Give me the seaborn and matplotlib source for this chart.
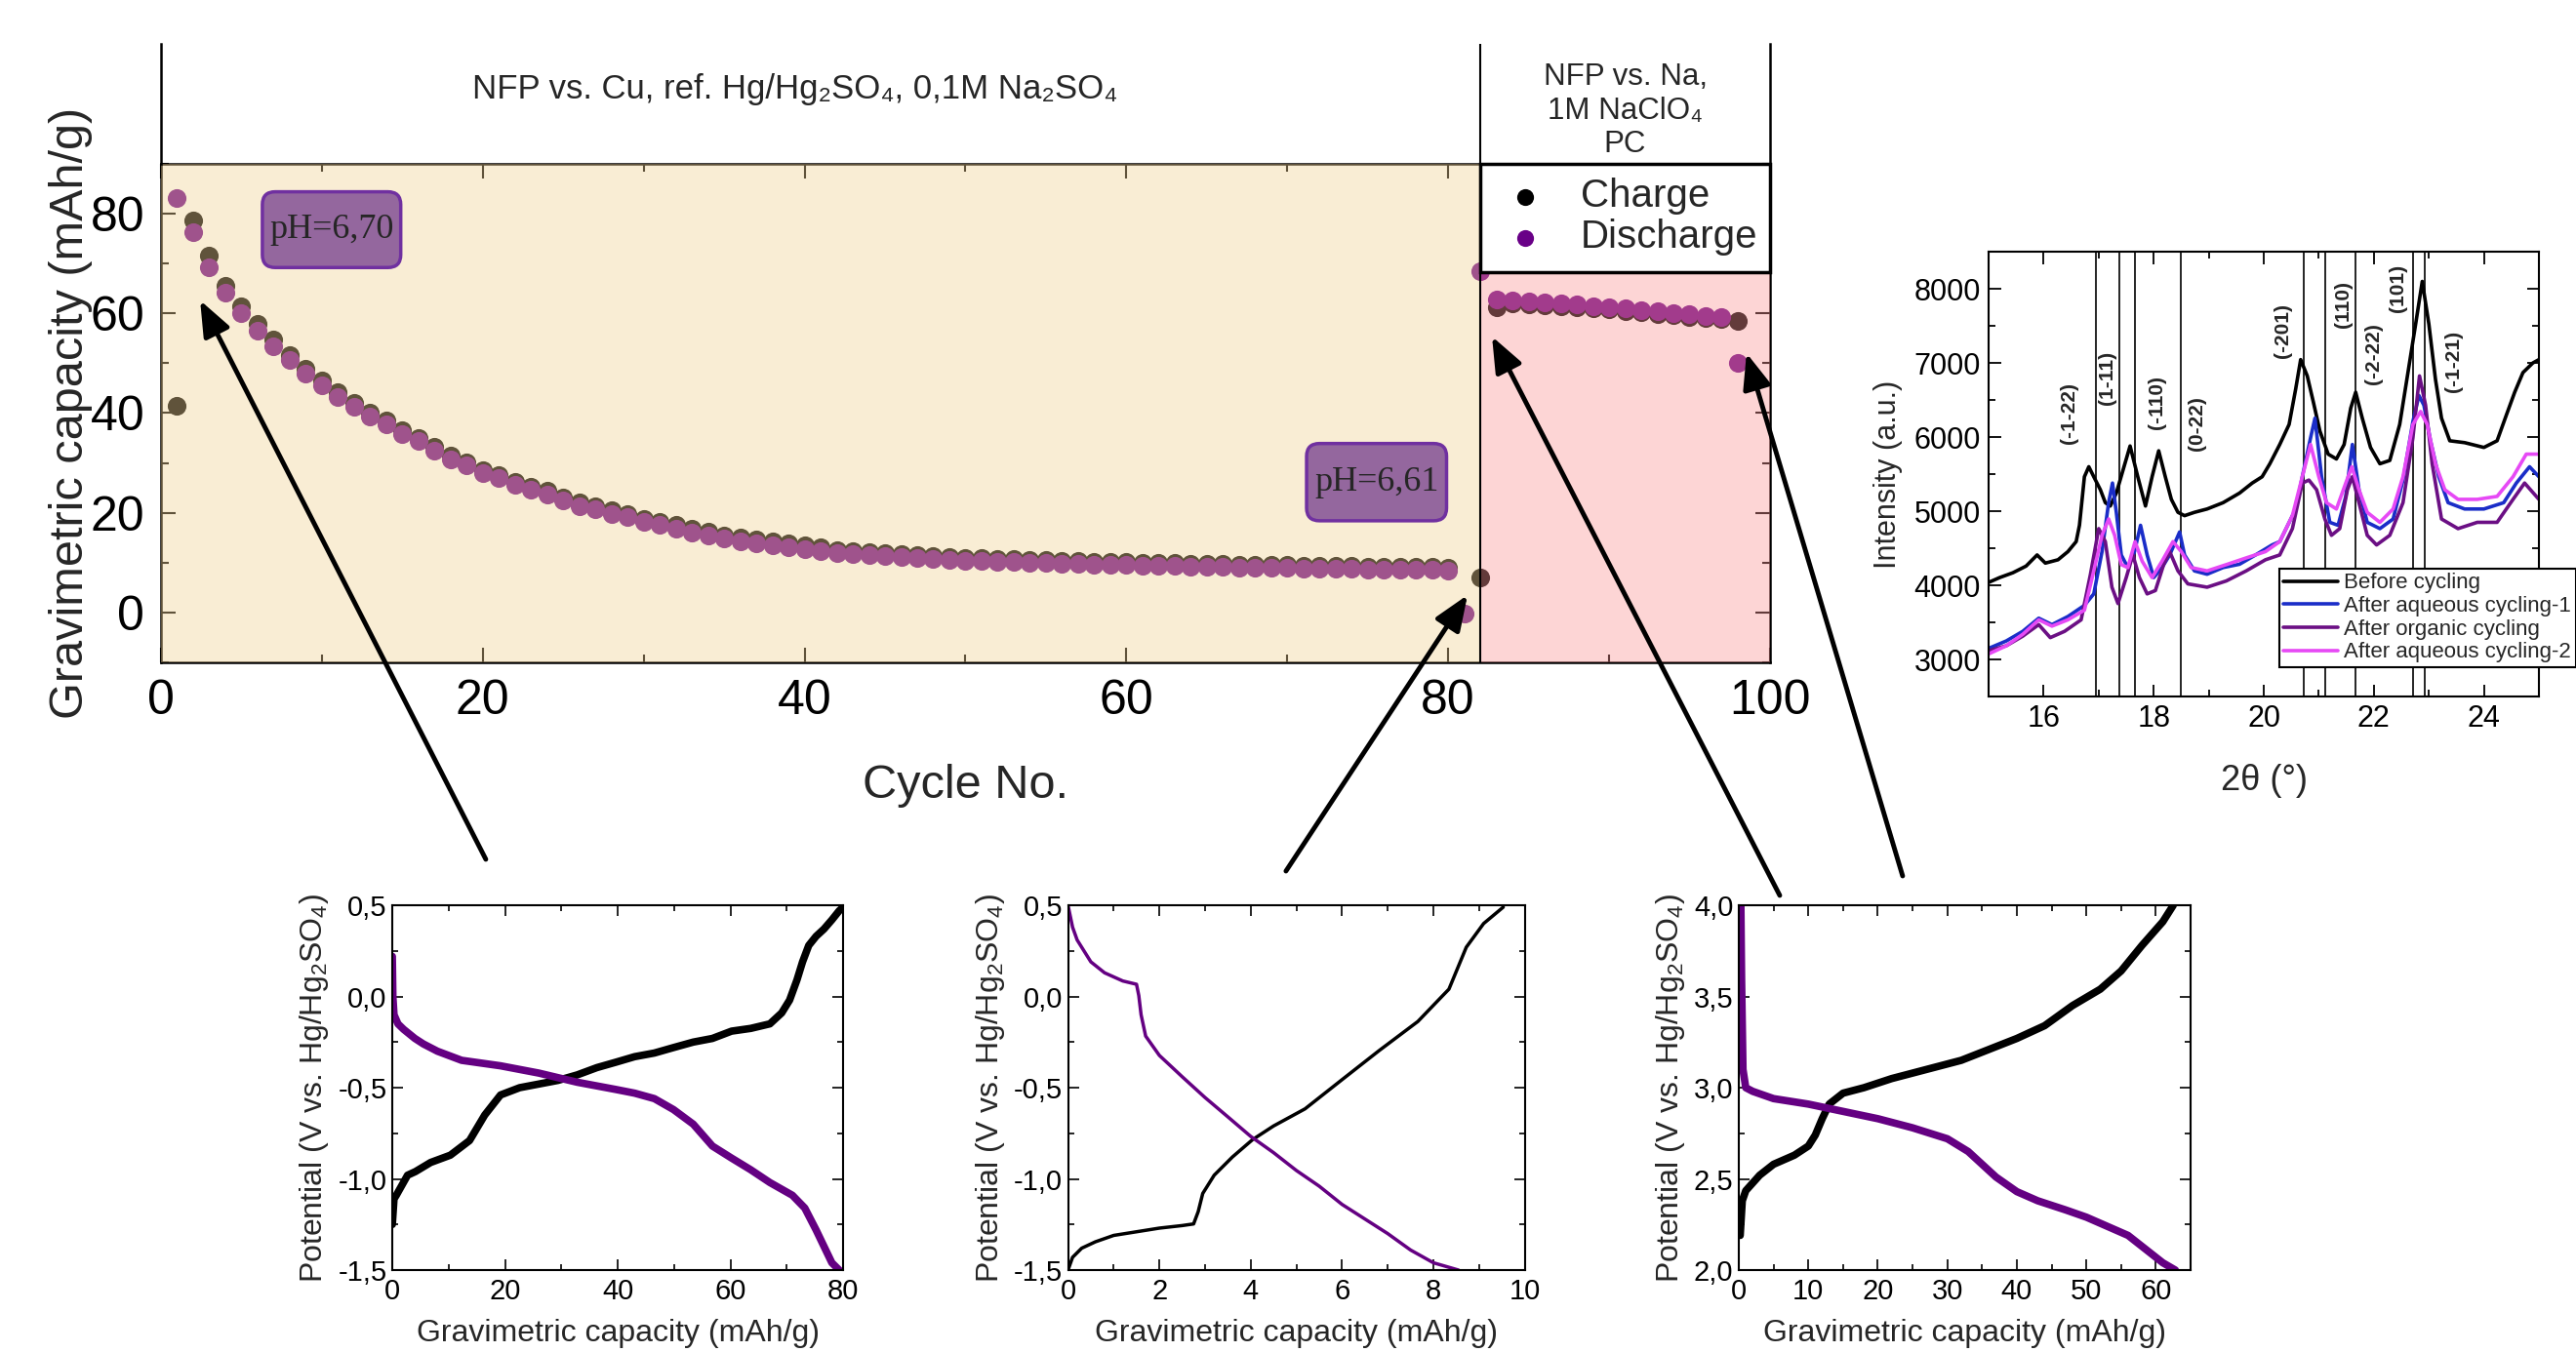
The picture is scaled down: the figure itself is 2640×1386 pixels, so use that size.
import numpy as np
import pandas as pd
import matplotlib
matplotlib.use('Agg')
import matplotlib.pyplot as plt
import seaborn as sns
from matplotlib.ticker import MultipleLocator, FuncFormatter
from matplotlib.patches import Rectangle, FancyArrowPatch, FancyBboxPatch

# ---------------- main cycling data ----------------
charge_cycle = list(range(1, 81)) + [82] + list(range(83, 99))
charge_cap = [41.5, 78.7, 71.6, 65.6, 61.5, 57.9, 54.7, 51.6, 49.0, 46.5,
              44.2, 42.1, 40.1, 38.5, 36.6, 35.1, 33.2, 31.5, 30.2, 28.6,
              27.6, 26.3, 25.3, 24.4, 23.1, 22.1, 21.4, 20.5, 19.8, 18.8,
              18.2, 17.5, 16.8, 16.2, 15.5, 15.0, 14.6, 14.2, 13.8, 13.4,
              13.0, 12.6, 12.4, 12.1, 11.9, 11.7, 11.5, 11.3, 11.2, 11.0,
              10.9, 10.8, 10.7, 10.6, 10.5, 10.4, 10.3, 10.2, 10.2, 10.1,
              10.0, 10.0, 9.9, 9.8, 9.8, 9.7, 9.6, 9.6, 9.5, 9.5,
              9.4, 9.4, 9.3, 9.3, 9.2, 9.2, 9.1, 9.1, 9.1, 9.0,
              7.0,
              61.3, 62.0, 61.9, 61.7, 61.5, 61.3, 61.0, 60.8, 60.5, 60.2,
              59.9, 59.6, 59.3, 59.0, 58.8, 58.5]
discharge_cycle = list(range(1, 82)) + list(range(82, 99))
discharge_cap = [83.1, 76.3, 69.3, 64.1, 60.0, 56.6, 53.5, 50.6, 48.0, 45.6,
                 43.3, 41.3, 39.3, 37.7, 35.8, 34.4, 32.5, 30.8, 29.5, 27.9,
                 26.9, 25.6, 24.6, 23.7, 22.4, 21.4, 20.7, 19.8, 19.1, 18.1,
                 17.5, 16.8, 16.1, 15.5, 14.8, 14.3, 13.9, 13.5, 13.1, 12.7,
                 12.4, 12.0, 11.8, 11.5, 11.3, 11.1, 10.9, 10.7, 10.6, 10.4,
                 10.3, 10.2, 10.1, 10.0, 9.9, 9.8, 9.7, 9.6, 9.6, 9.5,
                 9.4, 9.4, 9.3, 9.2, 9.2, 9.1, 9.0, 9.0, 8.9, 8.9,
                 8.8, 8.8, 8.7, 8.7, 8.6, 8.6, 8.5, 8.5, 8.5, 8.4,
                 -0.3,
                 68.5, 62.8, 62.6, 62.4, 62.2, 62.0, 61.8, 61.5, 61.2, 61.0,
                 60.7, 60.4, 60.1, 59.8, 59.5, 59.2, 50.0]
ph_labels = ['pH=6,70', 'pH=6,61']

# ---------------- XRD data ----------------
xrd_before_tt = [15.0, 15.2, 15.44, 15.68, 15.88, 16.03, 16.26, 16.44, 16.59, 16.65,
                 16.74, 16.82, 16.91, 17.03, 17.12, 17.21, 17.32, 17.44, 17.57, 17.71,
                 17.85, 17.97, 18.09, 18.21, 18.32, 18.44, 18.56, 18.74, 18.97, 19.26,
                 19.56, 19.79, 19.97, 20.11, 20.29, 20.46, 20.58, 20.67, 20.79, 20.90,
                 21.02, 21.17, 21.32, 21.46, 21.58, 21.67, 21.79, 21.94, 22.11, 22.29,
                 22.47, 22.62, 22.76, 22.88, 23.0, 23.12, 23.23, 23.38, 23.65, 24.0,
                 24.24, 24.41, 24.56, 24.71, 24.89, 25.0]
xrd_before_I = [4040, 4105, 4170, 4260, 4410, 4300, 4345, 4455, 4590, 4810,
                5465, 5600, 5465, 5290, 5115, 5070, 5245, 5550, 5880, 5465,
                5070, 5465, 5815, 5465, 5160, 4985, 4940, 4985, 5030, 5115,
                5245, 5380, 5465, 5640, 5900, 6170, 6650, 7045, 6825, 6475,
                6080, 5770, 5705, 5900, 6390, 6605, 6255, 5860, 5640, 5685,
                6170, 6870, 7525, 8100, 7525, 6780, 6255, 5950, 5925, 5860,
                5950, 6300, 6605, 6870, 7000, 7045]
xrd_aq1_tt = [15.0, 15.32, 15.62, 15.91, 16.15, 16.44, 16.74, 16.91, 17.06, 17.18,
              17.25, 17.32, 17.41, 17.53, 17.65, 17.76, 17.88, 18.0, 18.15, 18.29,
              18.47, 18.56, 18.74, 18.97, 19.26, 19.56, 19.85, 20.15, 20.29, 20.58,
              20.7, 20.85, 20.93, 21.05, 21.2, 21.35, 21.49, 21.61, 21.73, 21.88,
              22.11, 22.35, 22.53, 22.71, 22.82, 22.91, 23.03, 23.18, 23.35, 23.65,
              24.0, 24.36, 24.59, 24.83, 25.0]
xrd_aq1_I = [3150, 3250, 3380, 3557, 3470, 3580, 3730, 3885, 4455, 5115,
             5380, 4985, 4410, 4240, 4455, 4810, 4410, 4105, 4240, 4410,
             4720, 4410, 4195, 4150, 4240, 4285, 4410, 4545, 4590, 5030,
             5465, 5990, 6255, 5465, 4850, 4810, 5200, 5900, 5290, 4850,
             4765, 4895, 5420, 6210, 6560, 6430, 5950, 5465, 5115, 5030,
             5030, 5115, 5380, 5600, 5465]
xrd_org_tt = [15.0, 15.32, 15.62, 15.91, 16.12, 16.38, 16.68, 16.85, 17.0, 17.12,
              17.24, 17.35, 17.5, 17.62, 17.74, 17.88, 18.03, 18.18, 18.29, 18.44,
              18.62, 18.97, 19.32, 19.68, 20.03, 20.29, 20.52, 20.7, 20.82, 20.96,
              21.11, 21.23, 21.38, 21.52, 21.61, 21.73, 21.88, 22.05, 22.29, 22.53,
              22.71, 22.83, 22.94, 23.06, 23.23, 23.53, 23.88, 24.24, 24.53, 24.74,
              25.0]
xrd_org_I = [3118, 3185, 3315, 3470, 3295, 3380, 3535, 4150, 4765, 4590,
             3975, 3755, 4105, 4410, 4105, 3885, 3930, 4280, 4455, 4195,
             4020, 3975, 4060, 4195, 4345, 4410, 4765, 5380, 5420, 5290,
             4895, 4675, 4765, 5290, 5465, 5115, 4675, 4545, 4675, 5115,
             5990, 6825, 6430, 5640, 4895, 4765, 4850, 4850, 5160, 5380,
             5160]
xrd_aq2_tt = [15.0, 15.32, 15.62, 15.91, 16.15, 16.44, 16.74, 16.91, 17.06, 17.18,
              17.29, 17.41, 17.53, 17.66, 17.79, 17.97, 18.15, 18.35, 18.5, 18.68,
              18.97, 19.32, 19.68, 20.03, 20.29, 20.52, 20.7, 20.85, 21.0, 21.14,
              21.32, 21.49, 21.6, 21.73, 21.88, 22.11, 22.35, 22.53, 22.71, 22.85,
              22.97, 23.12, 23.29, 23.53, 23.88, 24.24, 24.53, 24.77, 25.0]
xrd_aq2_I = [3075, 3185, 3340, 3535, 3450, 3535, 3665, 4195, 4675, 4895,
             4675, 4280, 4240, 4590, 4325, 4105, 4325, 4590, 4455, 4240,
             4195, 4280, 4370, 4455, 4590, 4940, 5465, 5900, 5465, 5115,
             5030, 5380, 5600, 5290, 4985, 4850, 5030, 5465, 6170, 6345,
             6170, 5640, 5290, 5160, 5160, 5200, 5465, 5770, 5770]
xrd_series = ['Before cycling', 'After aqueous cycling-1', 'After organic cycling', 'After aqueous cycling-2']
peak_pos = [16.95, 17.37, 17.66, 18.50, 20.72, 21.11, 21.66, 22.72, 22.93]
peak_names = ['(-1-22)', '(1-11)', '(-110)', '(0-22)', '(-201)', '(110)', '(-2-22)', '(101)', '(-1-21)']
peak_label_x = [16.47, 17.16, 18.06, 18.79, 20.34, 21.44, 22.0, 22.44, 23.44]
peak_label_y = [6320, 6800, 6470, 6190, 7440, 7790, 7130, 8010, 7020]

# ---------------- galvanostatic profiles ----------------
ch1_cap = [0, 0.3, 0.7, 2.7, 4.1, 6.8, 10.3, 13.7, 16.4, 19.2, 22.6, 26.0, 29.4, 32.8, 36.3,
           39.7, 43.0, 46.5, 49.9, 53.4, 56.8, 60.2, 63.6, 67.0, 69.1, 70.5, 71.8, 72.8, 73.9,
           75.2, 76.6, 78.0, 79.3, 80.0]
ch1_V = [-1.25, -1.11, -1.09, -0.98, -0.96, -0.91, -0.87, -0.79, -0.65, -0.54, -0.50, -0.48, -0.46,
         -0.43, -0.39, -0.36, -0.33, -0.31, -0.28, -0.25, -0.23, -0.19, -0.175, -0.15, -0.09,
         -0.02, 0.09, 0.19, 0.28, 0.33, 0.37, 0.42, 0.47, 0.49]
dc1_cap = [0, 0.1, 0.3, 1.0, 2.0, 4.0, 5.5, 8.0, 12.3, 19.2, 26.0, 32.8, 39.7, 43.0, 46.5,
           49.9, 53.4, 56.8, 60.2, 63.6, 67.0, 71.0, 73.2, 75.2, 78.0, 79.3]
dc1_V = [0.22, 0.0, -0.1, -0.15, -0.18, -0.23, -0.26, -0.30, -0.35, -0.38, -0.42, -0.47, -0.51,
         -0.53, -0.56, -0.62, -0.70, -0.82, -0.886, -0.95, -1.02, -1.09, -1.16, -1.28, -1.46, -1.5]
ch2_cap = [0, 0.1, 0.3, 0.6, 1.0, 1.5, 2.0, 2.5, 2.75, 2.85, 2.95, 3.2, 3.6, 4.04, 4.5, 5.19,
           6.0, 6.81, 7.66, 8.17, 8.34, 8.72, 9.1, 9.53]
ch2_V = [-1.5, -1.43, -1.38, -1.345, -1.31, -1.29, -1.27, -1.256, -1.247, -1.18, -1.08, -0.98,
         -0.88, -0.785, -0.71, -0.616, -0.456, -0.297, -0.137, -0.004, 0.04, 0.27, 0.40, 0.49]
dc2_cap = [0, 0.1, 0.2, 0.5, 0.8, 1.2, 1.5, 1.55, 1.6, 1.7, 2.0, 2.5, 3.0, 3.5, 4.0, 4.5, 5.0,
           5.5, 6.0, 6.5, 7.0, 7.5, 8.0, 8.55]
dc2_V = [0.5, 0.38, 0.31, 0.19, 0.13, 0.085, 0.067, 0.005, -0.10, -0.217, -0.323, -0.44, -0.554,
         -0.66, -0.767, -0.856, -0.954, -1.04, -1.14, -1.22, -1.30, -1.39, -1.46, -1.5]
ch3_cap = [0.2, 0.5, 1, 3, 5, 8, 10, 11, 12, 13, 15, 18, 22, 27, 32, 36, 40, 44, 48, 52, 55,
           58, 61, 62.5]
ch3_V = [2.19, 2.38, 2.435, 2.52, 2.58, 2.63, 2.68, 2.74, 2.83, 2.91, 2.97, 3.0, 3.05, 3.1,
         3.15, 3.21, 3.27, 3.34, 3.45, 3.54, 3.64, 3.78, 3.91, 4.0]
dc3_cap = [0.3, 0.4, 0.6, 1, 2, 5, 10, 15, 20, 25, 30, 33, 35, 37, 40, 43, 47, 50, 53, 56,
           59, 61, 62.8]
dc3_V = [4.0, 3.6, 3.1, 3.0, 2.98, 2.94, 2.91, 2.87, 2.83, 2.78, 2.72, 2.65, 2.58, 2.51, 2.43,
         2.38, 2.33, 2.29, 2.24, 2.19, 2.10, 2.04, 2.0]

PURPLE = '#690087'

sns.set_theme(style='ticks')
plt.rcParams['font.family'] = ['Liberation Sans', 'DejaVu Sans']
plt.rcParams['mathtext.fontset'] = 'custom'
plt.rcParams['mathtext.rm'] = 'Liberation Sans'
plt.rcParams['mathtext.it'] = 'Liberation Sans:italic'
plt.rcParams['mathtext.bf'] = 'Liberation Sans:bold'
plt.rcParams['axes.edgecolor'] = 'black'
plt.rcParams['xtick.color'] = 'black'
plt.rcParams['ytick.color'] = 'black'

fig = plt.figure(figsize=(26.4, 13.86), dpi=100)
fig.patch.set_facecolor('white')

# ---------------- main axes ----------------
ax = fig.add_axes([0.0625, 0.5101, 0.6246, 0.3687])
sns.scatterplot(x=charge_cycle, y=charge_cap, color='black', s=190, linewidth=0,
                ax=ax, label='Charge', zorder=2, legend=False)
sns.scatterplot(x=discharge_cycle, y=discharge_cap, color=PURPLE, s=190, linewidth=0,
                ax=ax, label='Discharge', zorder=2, legend=False)
ax.set_xlim(0, 100)
ax.set_ylim(-10, 90)
ax.axvspan(0, 82, color='#F2D294', alpha=0.4, lw=0, zorder=3)
ax.axvspan(82, 100, ymin=0, ymax=(68.3 + 10) / 100, color='#FA9696', alpha=0.4, lw=0, zorder=3)
ax.axvline(82, color='black', lw=1.5, zorder=4)
ax.add_patch(Rectangle((82, 68.3), 18, 21.7, facecolor='white', edgecolor='black',
                       lw=2.5, zorder=5, clip_on=False))
leg = ax.legend(loc='upper left', bbox_to_anchor=(82, 90), bbox_transform=ax.transData,
                frameon=False, fontsize=29, handlelength=1.6, handletextpad=0.6,
                labelspacing=0.1, borderpad=0.35, borderaxespad=0, markerscale=0.9)
leg.set_zorder(6)

ax.xaxis.set_major_locator(MultipleLocator(20))
ax.xaxis.set_minor_locator(MultipleLocator(10))
ax.yaxis.set_major_locator(MultipleLocator(20))
ax.yaxis.set_minor_locator(MultipleLocator(10))
ax.tick_params(which='both', direction='in', top=True, right=True, width=1.5, labelsize=36, pad=12)
ax.tick_params(which='major', length=11)
ax.tick_params(which='minor', length=6)
for s in ax.spines.values():
    s.set_linewidth(1.8)
ax.set_xlabel('Cycle No.', fontsize=35, labelpad=30)
ax.set_ylabel('Gravimetric capacity (mAh/g)', fontsize=35, labelpad=-2)

# pH annotation boxes (x0, y0, width, height in data units)
ph_boxes = [(6.3, 69.2, 8.6, 15.2), (71.2, 18.4, 8.7, 15.5)]
for (bx, by, bw, bh), t in zip(ph_boxes, ph_labels):
    ax.add_patch(FancyBboxPatch((bx, by), bw, bh,
                                boxstyle='round,pad=0,rounding_size=0.8',
                                mutation_aspect=3.2, fc='#94679E', ec='#7030A0',
                                lw=2.5, zorder=6))
    ax.text(bx + bw / 2, by + bh / 2, t, family=['Liberation Serif', 'DejaVu Serif'],
            fontsize=26, ha='center', va='center', zorder=7)

# header
hx = fig.add_axes([0.0625, 0.8788, 0.6246, 0.0887])
hx.set_xlim(0, 100)
hx.set_ylim(0, 1)
hx.set_xticks([])
hx.set_yticks([])
hx.patch.set_alpha(0)
for s in ['top', 'bottom']:
    hx.spines[s].set_visible(False)
for s in ['left', 'right']:
    hx.spines[s].set_linewidth(1.8)
hx.axvline(82, color='black', lw=1.5)
hx.text(39.4, 0.62, 'NFP vs. Cu, ref. Hg/Hg₂SO₄, 0,1M Na₂SO₄', ha='center', va='center', fontsize=25)
hx.text(91, 0.44, 'NFP vs. Na,\n1M NaClO₄\nPC', ha='center', va='center', fontsize=22.5, linespacing=1.2)

# ---------------- XRD inset ----------------
axx = fig.add_axes([0.772, 0.4848, 0.2136, 0.329])
for p in peak_pos:
    axx.axvline(p, color='black', lw=1.2, zorder=1)
xrd_sets = [(xrd_before_tt, xrd_before_I, 'black'),
            (xrd_aq1_tt, xrd_aq1_I, '#1A2DC8'),
            (xrd_org_tt, xrd_org_I, '#6B0F84'),
            (xrd_aq2_tt, xrd_aq2_I, '#E649F5')]
for (tt, inten, col), name in zip(xrd_sets, xrd_series):
    sns.lineplot(x=tt, y=inten, color=col, lw=2.6, ax=axx, sort=False, estimator=None,
                 label=name, legend=False, zorder=2)
axx.set_xlim(15, 25)
axx.set_ylim(2500, 8500)
for lx, ly, nm in zip(peak_label_x, peak_label_y, peak_names):
    axx.text(lx, ly, nm, rotation=90, ha='center', va='center', fontsize=15,
             fontweight='bold', zorder=3)
axx.xaxis.set_major_locator(MultipleLocator(2))
axx.xaxis.set_minor_locator(MultipleLocator(1))
axx.yaxis.set_major_locator(MultipleLocator(1000))
axx.yaxis.set_minor_locator(MultipleLocator(500))
axx.tick_params(which='both', direction='in', top=True, right=True, width=1.3, labelsize=22, pad=6)
axx.tick_params(which='major', length=9)
axx.tick_params(which='minor', length=5)
for s in axx.spines.values():
    s.set_linewidth(1.5)
axx.set_xlabel('2θ (°)', fontsize=26, labelpad=22)
axx.set_ylabel('Intensity (a.u.)', fontsize=22, labelpad=8)
lg2 = axx.legend(loc='upper left', bbox_to_anchor=(20.28, 4224), bbox_transform=axx.transData,
                 fontsize=16, frameon=True, fancybox=False, edgecolor='black', framealpha=1,
                 handlelength=2.5, borderpad=0.2, labelspacing=0.12, handletextpad=0.3,
                 borderaxespad=0)
lg2.get_frame().set_linewidth(1.5)
lg2.set_zorder(5)

# ---------------- galvanostatic insets ----------------
comma = FuncFormatter(lambda v, p: f'{v:.1f}'.replace('.', ','))
insets = [
    ([0.1523, 0.0606, 0.175, 0.2698], (0, 80), (-1.5, 0.5), 20, 10,
     ch1_cap, ch1_V, dc1_cap, dc1_V, 5.5),
    ([0.4146, 0.0606, 0.1773, 0.2698], (0, 10), (-1.5, 0.5), 2, 1,
     ch2_cap, ch2_V, dc2_cap, dc2_V, 2.5),
    ([0.675, 0.0606, 0.1754, 0.2698], (0, 65), (2.0, 4.0), 10, 5,
     ch3_cap, ch3_V, dc3_cap, dc3_V, 5.5),
]
for rect, xl, yl, xmaj, xmin, cx, cy, dx, dy, lw in insets:
    a = fig.add_axes(rect)
    sns.lineplot(x=cx, y=cy, color='black', lw=lw, ax=a, sort=False, estimator=None)
    sns.lineplot(x=dx, y=dy, color='#640082', lw=lw, ax=a, sort=False, estimator=None)
    a.set_xlim(*xl)
    a.set_ylim(*yl)
    a.xaxis.set_major_locator(MultipleLocator(xmaj))
    a.xaxis.set_minor_locator(MultipleLocator(xmin))
    a.yaxis.set_major_locator(MultipleLocator(0.5))
    a.yaxis.set_minor_locator(MultipleLocator(0.25))
    a.yaxis.set_major_formatter(comma)
    a.tick_params(which='both', direction='in', top=True, right=True, width=1.2,
                  labelsize=21)
    a.tick_params(axis='x', pad=6)
    a.tick_params(axis='y', pad=4)
    a.tick_params(which='major', length=8)
    a.tick_params(which='minor', length=4)
    for s in a.spines.values():
        s.set_linewidth(1.5)
    a.set_xlabel('Gravimetric capacity (mAh/g)', fontsize=23, labelpad=10)
    a.set_ylabel('Potential (V vs. Hg/Hg$_2$SO$_4$)', fontsize=23, labelpad=5)

# ---------------- arrows ----------------
arrows = [((0.1886, 0.3644), (0.0777, 0.7778)),
          ((0.4992, 0.3557), (0.5697, 0.5599)),
          ((0.6909, 0.3377), (0.5792, 0.7511)),
          ((0.7386, 0.3521), (0.6780, 0.7388))]
for tail, head in arrows:
    fig.add_artist(FancyArrowPatch(tail, head, transform=fig.transFigure,
                                   arrowstyle='-|>,head_length=0.55,head_width=0.22',
                                   mutation_scale=40, lw=3.5, color='black',
                                   shrinkA=0, shrinkB=0, zorder=10))

fig.savefig('out.png', dpi=100)
